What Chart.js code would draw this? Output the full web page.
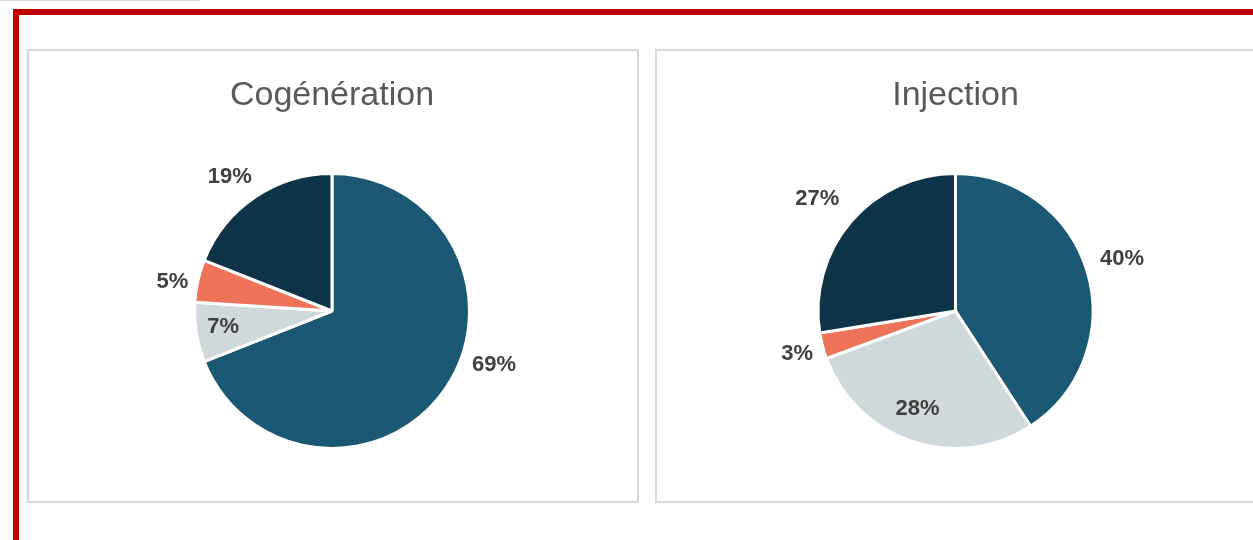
<!DOCTYPE html>
<html lang="fr">
<head>
    <meta charset="UTF-8">
    <title>Cogénération / Injection</title>
    <style>
        body { margin: 0; background: #fff; width: 1253px; height: 540px; overflow: hidden; position: relative; }
        .topline { position: absolute; left: 0; top: 0; width: 200px; height: 1px; background: #d4dee3; }
        .redH { position: absolute; left: 13px; top: 9px; width: 1260px; height: 6px; background: #c00000; }
        .redV { position: absolute; left: 13px; top: 9px; width: 6px; height: 540px; background: #c00000; }
        .panel { position: absolute; top: 49px; height: 450px; border: 2px solid #d9d9d9; background: #fff; }
        .panel .box { width: 608px; height: 450px; }
    </style>
</head>
<body>
    <div class="topline"></div>
    <div class="redH"></div>
    <div class="redV"></div>

    <div class="panel" style="left:27px; width:608px;">
        <div class="box"><canvas id="chartCogen"></canvas></div>
    </div>
    <div class="panel" style="left:655px; width:640px;">
        <div class="box"><canvas id="chartInject"></canvas></div>
    </div>

    <script src="https://cdn.jsdelivr.net/npm/chart.js@4.4.1/dist/chart.umd.min.js"></script>
    <script>
    // 데이터 (%)
    const categories = ['1', '2', '3', '4'];
    const cogenValues = [69, 7, 5, 19];
    const injectValues = [40, 28, 3, 27];

    const sliceColors = ['#1a5874', '#cfd9db', '#ee7459', '#0f3447'];
    const v_font = '"Liberation Sans", Arial, sans-serif';

    // 퍼센트 라벨 - 조각 중심각 기준으로 거리/각도 보정
    const pctLabels = {
        id: 'pctLabels',
        afterDatasetsDraw(chart, args, opts) {
            const meta = chart.getDatasetMeta(0);
            const c = chart.ctx;
            c.save();
            c.font = 'bold 22px ' + v_font;
            c.fillStyle = '#404040';
            c.textAlign = 'center';
            c.textBaseline = 'middle';
            meta.data.forEach(function(arc, i){
                const p = arc.getProps(['x', 'y', 'startAngle', 'endAngle', 'outerRadius'], true);
                const a = (p.startAngle + p.endAngle) / 2 + opts.shift[i] * Math.PI / 180;
                const r = p.outerRadius * opts.dist[i];
                c.fillText(chart.data.datasets[0].data[i] + '%', p.x + Math.cos(a) * r, p.y + Math.sin(a) * r + 1);
            });
            c.restore();
        }
    };

    function f_pie(p_id, p_title, p_values, p_dist, p_shift, p_padRight){
        const ctx = document.getElementById(p_id).getContext('2d');
        return new Chart(ctx, {
            type: 'pie',
            data: {
                labels: categories,
                datasets: [{
                    data: p_values,
                    backgroundColor: sliceColors,
                    borderColor: '#ffffff',
                    borderWidth: 3,
                    radius: 137.5,
                    hoverOffset: 0
                }]
            },
            options: {
                responsive: true,
                maintainAspectRatio: false,
                animation: false,
                events: [],
                layout: { padding: { top: 0, bottom: 1.4, left: 0, right: p_padRight } },
                plugins: {
                    legend: { display: false },
                    tooltip: { enabled: false },
                    title: {
                        display: true,
                        text: p_title,
                        color: '#595959',
                        font: { family: v_font, size: 34, weight: 'normal' },
                        padding: { top: 24, bottom: 6.6 }
                    },
                    pctLabels: { dist: p_dist, shift: p_shift }
                }
            },
            plugins: [pctLabels]
        });
    }

    const cogenChart = f_pie('chartCogen', 'Cogénération', cogenValues,
        [1.24, 0.80, 1.18, 1.23], [-16, 1, -2, -3], 2);
    const injectChart = f_pie('chartInject', 'Injection', injectValues,
        [1.27, 0.76, 1.19, 1.30], [-1, 3, 0, -1], 11);
    </script>
</body>
</html>
